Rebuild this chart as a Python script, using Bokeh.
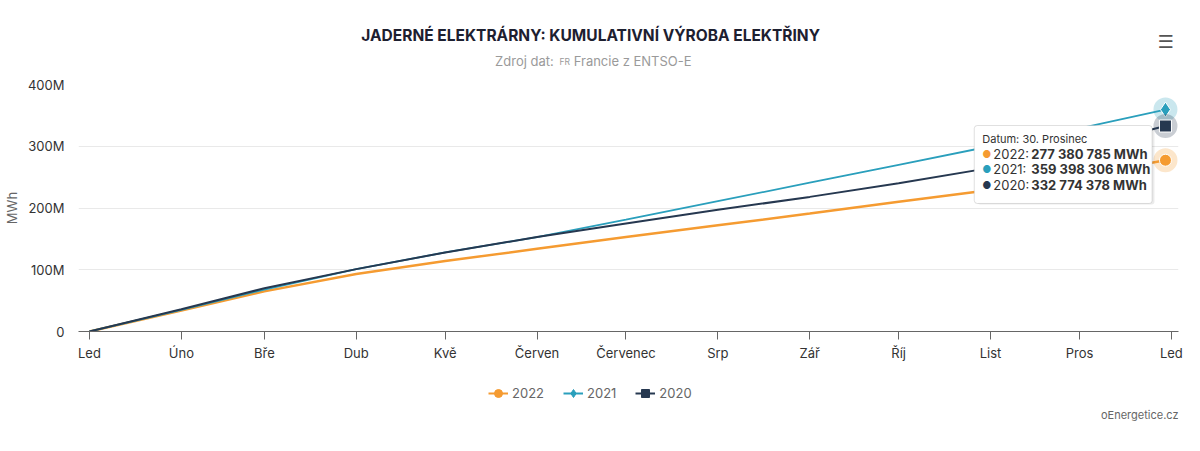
from bokeh.plotting import figure
from bokeh.models import (FixedTicker, Legend, LegendItem, BoxAnnotation, Label)
from bokeh.layouts import column
from bokeh.embed import file_html
from bokeh.resources import INLINE

# day of year for each reading (month starts + last point on 30 Dec)
days = [0, 31, 59, 90, 120, 151, 181, 212, 243, 273, 304, 334, 363]
y2022 = [0, 34e6, 65e6, 93e6, 114e6, 134e6, 153e6, 172e6, 191e6, 210e6, 229e6, 252e6, 277380785]
y2021 = [0, 35e6, 68e6, 101e6, 128e6, 153e6, 181e6, 211e6, 241e6, 270e6, 300e6, 329e6, 359398306]
y2020 = [0, 36e6, 70e6, 101e6, 128e6, 153e6, 175e6, 197e6, 218e6, 240e6, 265e6, 298e6, 332774378]

month_ticks = [0, 31, 59, 90, 120, 151, 181, 212, 243, 273, 304, 334, 365]
month_labels = ["Led", "Úno", "Bře", "Dub", "Kvě", "Červen", "Červenec", "Srp", "Zář", "Říj", "List", "Pros", "Led"]
y_ticks = [0, 100e6, 200e6, 300e6, 400e6]
y_labels = ["0", "100M", "200M", "300M", "400M"]

series = [("2022", y2022, "#f59b31", "circle", 2.5),
          ("2021", y2021, "#2a9fbc", "diamond", 1.8),
          ("2020", y2020, "#263850", "square", 2)]

FONT = "Inter"
W = 1184


def blank(h, dx=0):
    # frame is aligned with the chart frame by column(), so x ~ page pixels (+dx)
    f = figure(width=W, height=h, output_backend="svg", toolbar_location=None,
               x_range=(79 + dx, 1183 + dx), y_range=(0, h), min_border=0,
               x_axis_location=None, y_axis_location=None)
    f.grid.visible = False
    f.outline_line_color = None
    return f


# --- header ---
top = blank(74)
top.add_layout(Label(x=593, y=39, text="JADERNÉ ELEKTRÁRNY: KUMULATIVNÍ VÝROBA ELEKTŘINY",
                     text_align="center", text_baseline="middle", text_font=FONT,
                     text_font_size="15.5px", text_font_style="bold", text_color="#1d2030"))
top.add_layout(Label(x=556, y=14, text="Zdroj dat:", text_align="right", text_baseline="middle",
                     text_font=FONT, text_font_size="13px", text_color="#9a9a9a"))
top.add_layout(Label(x=567, y=13, text="FR", text_align="center", text_baseline="middle",
                     text_font=FONT, text_font_size="8.5px", text_color="#9a9a9a"))
top.add_layout(Label(x=576, y=14, text="Francie z ENTSO-E", text_align="left", text_baseline="middle",
                     text_font=FONT, text_font_size="13px", text_color="#9a9a9a"))
top.add_layout(Label(x=1170, y=33, text="☰", text_align="center", text_baseline="middle",
                     text_font="DejaVu Sans", text_font_size="18px", text_color="#555555"))

# --- main chart ---
p = figure(width=W, height=289, output_backend="svg", toolbar_location=None,
           x_range=(-3.7, 367.4), y_range=(0, 400e6),
           min_border_left=72, min_border_right=6, min_border_top=10, min_border_bottom=32)
p.outline_line_color = None

p.xaxis.ticker = FixedTicker(ticks=month_ticks)
p.xaxis.major_label_overrides = {t: l for t, l in zip(month_ticks, month_labels)}
p.xaxis.axis_line_color = "#666666"
p.xaxis.major_tick_line_color = "#666666"
p.xaxis.major_tick_out = 8
p.xaxis.major_tick_in = 0
p.xaxis.minor_tick_line_color = None
p.xaxis.major_label_text_font = FONT
p.xaxis.major_label_text_font_size = "13px"
p.xaxis.major_label_text_color = "#333333"
p.xgrid.grid_line_color = None

p.yaxis.ticker = FixedTicker(ticks=y_ticks)
p.yaxis.major_label_overrides = {t: l for t, l in zip(y_ticks, y_labels)}
p.yaxis.axis_line_color = None
p.yaxis.major_tick_line_color = None
p.yaxis.minor_tick_line_color = None
p.yaxis.major_label_text_font = FONT
p.yaxis.major_label_text_font_size = "13px"
p.yaxis.major_label_text_color = "#333333"
p.yaxis.major_label_standoff = 8
p.yaxis.axis_label = "MWh"
p.yaxis.axis_label_text_font = FONT
p.yaxis.axis_label_text_font_size = "13px"
p.yaxis.axis_label_text_font_style = "normal"
p.yaxis.axis_label_text_color = "#666666"
p.ygrid.grid_line_color = "#e9e9e9"

for name, vals, col, mk, lw in series:
    p.line(days, vals, line_color=col, line_width=lw)
    p.scatter(days[-1:], vals[-1:], marker="circle", size=24, fill_color=col, fill_alpha=0.25, line_color=None)
    p.scatter(days[-1:], vals[-1:], marker=mk, size=12 if mk != "diamond" else 15,
              fill_color=col, line_color="white", line_width=1)

# tooltip box for the last day
tx, ty = 298.5, 333.6e6
p.add_layout(BoxAnnotation(left=tx + 1, right=359.3, top=ty - 4e6, bottom=205.5e6,
                           fill_color="black", fill_alpha=0.08, line_color=None, border_radius=3))
p.add_layout(BoxAnnotation(left=tx, right=358.5, top=ty, bottom=207.3e6, fill_color="white",
                           fill_alpha=1, line_color="#999999", line_width=1, border_radius=3))
p.add_layout(Label(x=tx, y=ty, x_offset=8, y_offset=-13, text="Datum: 30. Prosinec",
                   text_font=FONT, text_font_size="11px", text_color="#333333", text_baseline="middle"))
for i, (name, vals, col, mk, lw) in enumerate(series):
    dy = -28 - 15.5 * i
    p.add_layout(Label(x=tx, y=ty, x_offset=8, y_offset=dy, text="●", text_font=FONT,
                       text_font_size="10px", text_color=col, text_baseline="middle"))
    p.add_layout(Label(x=tx, y=ty, x_offset=19, y_offset=dy, text=name + ":", text_font=FONT,
                       text_font_size="13px", text_color="#333333", text_baseline="middle"))
    val = "{:,}".format(int(vals[-1])).replace(",", " ") + " MWh"
    p.add_layout(Label(x=tx, y=ty, x_offset=57, y_offset=dy, text=val, text_font=FONT,
                       text_font_size="13px", text_font_style="bold", text_color="#333333",
                       text_baseline="middle"))

# --- legend + credit (series sit far left of this strip's x range; only the legend shows) ---
DX = 1000
bot = blank(72, DX)
items = []
for name, vals, col, mk, lw in series:
    ln = bot.line(days, vals, line_color=col, line_width=2)
    pt = bot.scatter(days, vals, marker=mk, size=9, fill_color=col, line_color=col)
    items.append(LegendItem(label=name, renderers=[ln, pt]))
legend = Legend(items=items, orientation="horizontal", location=(410, 32),
                label_text_font=FONT, label_text_font_size="13px", label_text_color="#666666",
                border_line_color=None, background_fill_alpha=0, spacing=19,
                glyph_width=20, label_standoff=4, margin=0, padding=4)
bot.add_layout(legend, "center")
bot.add_layout(Label(x=1183 + DX, y=14, text="oEnergetice.cz", text_align="right",
                     text_font=FONT, text_font_size="11px", text_color="#666666"))

layout = column(top, p, bot, spacing=0)
open("out.html", "w").write(file_html(layout, INLINE))
